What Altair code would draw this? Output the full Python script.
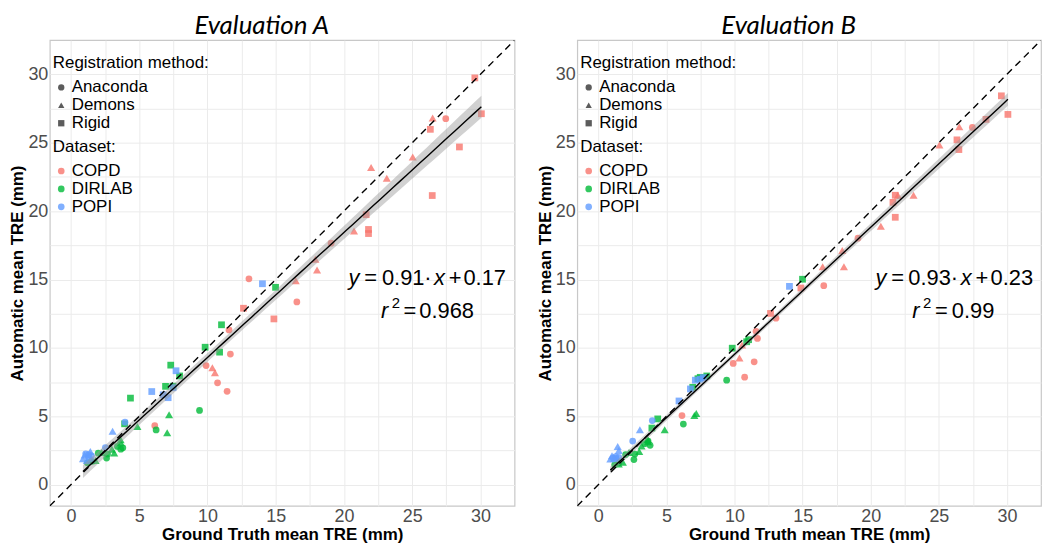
import altair as alt
import numpy as np
import pandas as pd

DATASETS = ["COPD", "DIRLAB", "POPI"]
METHODS = ["Anaconda", "Demons", "Rigid"]
COLORS = ["#F8766D", "#00BA38", "#619CFF"]
SHAPES = ["circle", "triangle-up", "square"]
GRID_VALUES = [0, 2.5, 5, 7.5, 10, 12.5, 15, 17.5, 20, 22.5, 25, 27.5, 30]
DOMAIN = [-1.55, 32.5]

# ground truth mean TRE (x) and automatic mean TRE for Evaluation A / B (y)
COPD_ANACONDA_GT = [13.04, 16.55, 19.06, 27.46, 11.58, 11.68, 9.90, 10.74, 11.44, 6.14]
COPD_ANACONDA_A = [15.05, 13.36, 17.66, 26.76, 11.31, 9.55, 8.71, 7.45, 6.83, 4.31]
COPD_ANACONDA_B = [12.17, 14.55, 18.02, 26.12, 11.21, 10.69, 8.86, 7.86, 8.98, 5.05]

COPD_DEMONS_GT = [16.47, 17.91, 18.03, 20.74, 21.99, 23.14, 25.04, 26.50, 10.36, 10.55]
COPD_DEMONS_A = [14.91, 16.48, 15.69, 18.55, 23.19, 22.40, 23.96, 26.81, 8.55, 8.19]
COPD_DEMONS_B = [15.93, 17.12, 15.93, 18.90, 21.16, 21.16, 24.83, 26.17, 9.26, 10.21]

COPD_RIGID_GT = [12.64, 14.87, 21.80, 21.80, 21.63, 26.47, 26.33, 28.46, 29.59, 30.07]
COPD_RIGID_A = [12.90, 12.12, 18.66, 18.36, 19.74, 21.14, 25.98, 24.69, 29.74, 27.12]
COPD_RIGID_B = [12.52, 14.38, 21.16, 19.55, 20.64, 24.50, 25.21, 26.71, 28.43, 27.07]

DIRLAB_ANACONDA_GT = [9.42, 6.24, 3.80, 3.65, 3.40, 2.68, 2.61, 2.00, 1.50, 1.20]
DIRLAB_ANACONDA_A = [5.43, 4.00, 2.70, 2.60, 2.80, 2.24, 1.95, 2.30, 1.70, 1.60]
DIRLAB_ANACONDA_B = [7.64, 4.43, 2.88, 3.19, 3.00, 2.24, 1.84, 2.20, 1.60, 1.45]

DIRLAB_DEMONS_GT = [7.19, 7.05, 4.87, 3.64, 3.65, 3.17, 3.00, 2.25, 1.80, 1.50]
DIRLAB_DEMONS_A = [5.12, 3.79, 4.26, 3.29, 3.07, 2.31, 2.60, 2.36, 1.76, 1.75]
DIRLAB_DEMONS_B = [5.21, 5.05, 4.02, 3.31, 3.14, 2.83, 2.43, 2.36, 1.64, 1.52]

DIRLAB_RIGID_GT = [14.99, 11.03, 9.83, 10.89, 7.31, 7.96, 6.93, 7.48, 4.36, 3.93]
DIRLAB_RIGID_A = [14.43, 11.69, 10.05, 9.69, 8.74, 7.95, 7.19, 7.20, 6.33, 4.45]
DIRLAB_RIGID_B = [15.02, 10.60, 9.98, 10.45, 7.75, 7.95, 7.12, 7.85, 4.81, 4.14]

POPI_ANACONDA_GT = [3.96, 2.52, 1.08, 1.27, 1.30, 1.50]
POPI_ANACONDA_A = [4.57, 2.71, 2.26, 2.00, 2.20, 2.10]
POPI_ANACONDA_B = [4.69, 3.19, 1.95, 2.05, 1.90, 2.00]

POPI_DEMONS_GT = [3.05, 1.42, 1.50, 1.00, 1.16, 0.88]
POPI_DEMONS_A = [3.90, 2.43, 1.90, 2.17, 1.76, 1.90]
POPI_DEMONS_B = [4.02, 2.79, 2.50, 2.12, 1.93, 1.88]

POPI_RIGID_GT = [14.03, 7.70, 7.48, 7.12, 6.76, 5.92]
POPI_RIGID_A = [14.69, 8.33, 7.09, 6.36, 6.57, 6.81]
POPI_RIGID_B = [14.50, 7.83, 7.71, 7.64, 7.00, 6.12]

GROUPS = [
    ("COPD", "Anaconda", COPD_ANACONDA_GT, COPD_ANACONDA_A, COPD_ANACONDA_B),
    ("COPD", "Demons", COPD_DEMONS_GT, COPD_DEMONS_A, COPD_DEMONS_B),
    ("COPD", "Rigid", COPD_RIGID_GT, COPD_RIGID_A, COPD_RIGID_B),
    ("DIRLAB", "Anaconda", DIRLAB_ANACONDA_GT, DIRLAB_ANACONDA_A, DIRLAB_ANACONDA_B),
    ("DIRLAB", "Demons", DIRLAB_DEMONS_GT, DIRLAB_DEMONS_A, DIRLAB_DEMONS_B),
    ("DIRLAB", "Rigid", DIRLAB_RIGID_GT, DIRLAB_RIGID_A, DIRLAB_RIGID_B),
    ("POPI", "Anaconda", POPI_ANACONDA_GT, POPI_ANACONDA_A, POPI_ANACONDA_B),
    ("POPI", "Demons", POPI_DEMONS_GT, POPI_DEMONS_A, POPI_DEMONS_B),
    ("POPI", "Rigid", POPI_RIGID_GT, POPI_RIGID_A, POPI_RIGID_B),
]

rows = []
for ds, m, gt, ya, yb in GROUPS:
    for g, a, b in zip(gt, ya, yb):
        rows.append({"dataset": ds, "method": m, "gt": g, "evalA": a, "evalB": b})
df = pd.DataFrame(rows)

# equation annotations (text shown in the figure)
EQ_A = [("y", True), ("=", False), ("0.91", False), ("·", False), ("x", True), ("+", False), ("0.17", False)]
EQ_B = [("y", True), ("=", False), ("0.93", False), ("·", False), ("x", True), ("+", False), ("0.23", False)]
R2_A = "0.968"
R2_B = "0.99"

# layout (pixels)
H = 468
W_A = 467
W_B = 466
REF_H = 477
FONT = "Liberation Sans"
POINT_SIZES = [46, 66, 46]


def fit_band(x, y):
    x = np.asarray(x, float)
    y = np.asarray(y, float)
    n = len(x)
    b, a = np.polyfit(x, y, 1)
    resid = y - (a + b * x)
    s = np.sqrt(resid @ resid / (n - 2))
    xbar = x.mean()
    sxx = ((x - xbar) ** 2).sum()
    xs = np.linspace(x.min(), x.max(), 60)
    se = s * np.sqrt(1.0 / n + (xs - xbar) ** 2 / sxx)
    yh = a + b * xs
    t = 1.992
    return pd.DataFrame({"x": xs, "lo": yh - t * se, "hi": yh + t * se, "fit": yh})


def axis():
    return alt.Axis(values=GRID_VALUES,
                    labelExpr="datum.value % 5 === 0 ? datum.label : ''",
                    grid=True, gridColor="#EBEBEB", gridWidth=1,
                    ticks=False, domain=False,
                    labelFont=FONT, labelFontSize=18, labelColor="#4D4D4D",
                    labelPadding=2, labelFlush=False,
                    titleFont=FONT, titleFontSize=17, titleFontWeight="bold",
                    titleColor="black", titlePadding=1)


def xenc(field):
    return alt.X(f"{field}:Q", title="Ground Truth mean TRE (mm)",
                 scale=alt.Scale(domain=DOMAIN, nice=False, zero=False), axis=axis())


def yenc(field):
    return alt.Y(f"{field}:Q", title="Automatic mean TRE (mm)",
                 scale=alt.Scale(domain=DOMAIN, nice=False, zero=False), axis=axis())


def token(text, px, py, italic=False, size=22):
    kw = dict(text=text, font=FONT, fontSize=size, align="left", baseline="alphabetic", color="black")
    if italic:
        kw["fontStyle"] = "italic"
    return alt.Chart(pd.DataFrame({"k": [0]})).mark_text(**kw).encode(
        x=alt.value(px), y=alt.value(py))


def legend_common():
    return dict(orient="none", legendX=3,
                labelFont=FONT, labelFontSize=17, labelColor="black",
                titleFont=FONT, titleFontSize=17, titleFontWeight="normal",
                titleColor="black", rowPadding=0, titlePadding=7,
                padding=0, labelOffset=2)


def panel(col, title, eq, eq_x, r2, r2_x, ref_left, ref_w, width):
    sx = width / ref_w
    sy = H / REF_H

    def rx(v):
        return (v - ref_left) * sx

    def ry(v):
        return (v - 37) * sy

    pts = alt.Chart(df).mark_point(filled=True, opacity=0.8, strokeWidth=0).encode(
        x=xenc("gt"), y=yenc(col),
        color=alt.Color("dataset:N", scale=alt.Scale(domain=DATASETS, range=COLORS),
                        legend=alt.Legend(title="Dataset:", legendY=99,
                                          symbolType="circle", symbolSize=45, symbolStrokeWidth=0,
                                          **legend_common())),
        shape=alt.Shape("method:N", scale=alt.Scale(domain=METHODS, range=SHAPES),
                        legend=alt.Legend(title="Registration method:", legendY=15,
                                          symbolSize=40, symbolFillColor="#333333", symbolStrokeWidth=0,
                                          **legend_common())),
        size=alt.Size("method:N", scale=alt.Scale(type="ordinal", domain=METHODS, range=POINT_SIZES),
                      legend=None),
    )
    band_df = fit_band(df["gt"], df[col])
    band = alt.Chart(band_df).mark_area(color="#999999", opacity=0.45).encode(
        x=xenc("x"), y=yenc("lo"), y2="hi:Q")
    reg = alt.Chart(band_df).mark_line(color="black", strokeWidth=1.4).encode(
        x=xenc("x"), y=yenc("fit"))
    ident = alt.Chart(pd.DataFrame({"v": DOMAIN})).mark_line(
        color="black", strokeDash=[7, 5], strokeWidth=1.4, clip=True).encode(
        x=xenc("v"), y=yenc("v"))

    texts = []
    for (t, it), px in zip(eq, eq_x):
        texts.append(token(t, rx(px), ry(288), it))
    texts.append(token("r", rx(r2_x[0]), ry(322), True))
    texts.append(token("2", rx(r2_x[1]), ry(311), False, 15))
    texts.append(token("=", rx(r2_x[2]), ry(322)))
    texts.append(token(r2, rx(r2_x[3]), ry(322)))

    return alt.layer(pts, band, reg, ident, *texts).properties(
        width=width, height=H,
        title=alt.TitleParams(title, font="Lato", fontStyle="italic", fontSize=26,
                              fontWeight="normal", color="black", offset=1,
                              anchor="middle", frame="bounds"))


pa = panel("evalA", "Evaluation A", EQ_A, [344, 360, 378, 421, 431, 446, 461], R2_A,
           [377, 388, 400, 416], 40, 473, W_A)
pb = panel("evalB", "Evaluation B", EQ_B, [875, 891, 908, 951, 961, 976, 991], R2_B,
           [912, 923, 935, 952], 574, 468, W_B)

chart = alt.hconcat(pa, pb, spacing=20).resolve_legend(
    color="independent", shape="independent").properties(
    padding={"top": 3, "left": 0, "right": 0, "bottom": 0}).configure_view(
    stroke="#C8C8C8", strokeWidth=1.2)

chart.save("out.html", embed_options={"renderer": "svg", "actions": False})
